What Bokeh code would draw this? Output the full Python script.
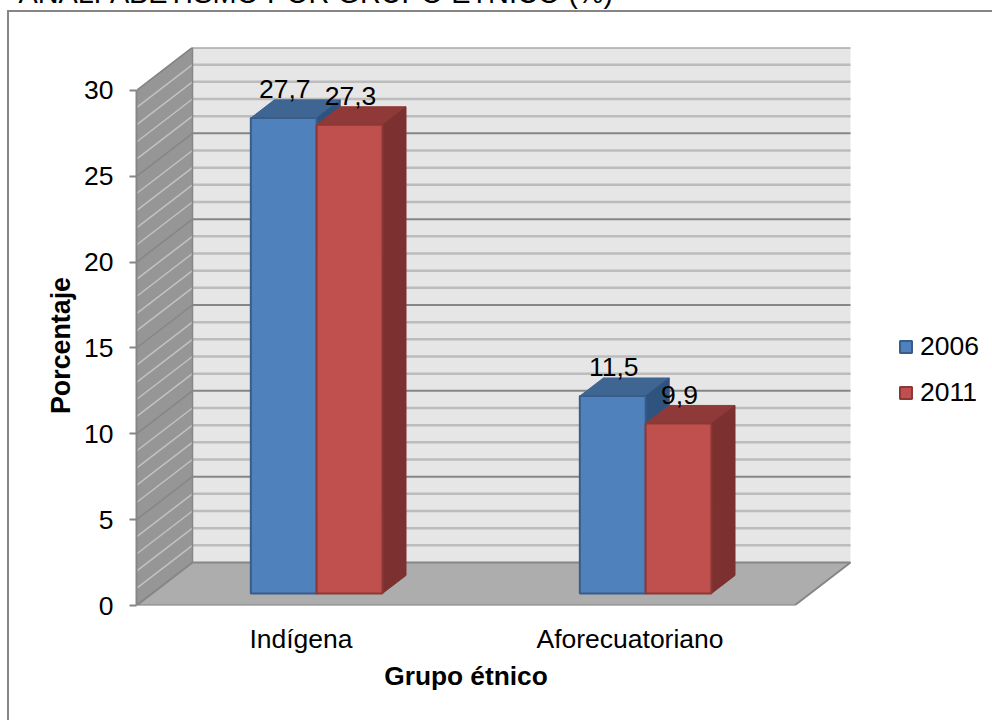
import math
from bokeh.plotting import figure
from bokeh.models import Range1d, FixedTicker, Label
from bokeh.embed import file_html
from bokeh.resources import INLINE
from bokeh.core.properties import value

title_text = "ANALFABETISMO POR GRUPO ÉTNICO (%)"
categories = ["Indígena", "Aforecuatoriano"]
series_names = ["2006", "2011"]
values_2006 = [27.7, 11.5]
values_2011 = [27.3, 9.9]
y_ticks = [0, 5, 10, 15, 20, 25, 30]
minor_levels = list(range(0, 31))
y_label = "Porcentaje"
x_label = "Grupo étnico"

FONT = "Liberation Sans"
GREY = "#868686"
W, H = 992, 720
LEFT, TOP, BOTTOM = 136, 47, 115   # room for the axes and the title
CAT_PX, UNIT_PX = 329.0, 17.167
DX, DY = 56 / CAT_PX, 43 / UNIT_PX   # depth shear of the 3D box
BW = 0.2                    # bar width in category units
D0, D1 = 0.279, 0.70        # bar depth extent inside the box
NCAT = len(categories)
Y_MAX = y_ticks[-1]


def px(x, d=0.0):
    return x + d * DX


def py(v, d=0.0):
    return v + d * DY


p = figure(width=W, height=H, output_backend="svg", toolbar_location=None,
           x_range=Range1d(0, (W - LEFT) / CAT_PX), y_range=Range1d(0, (H - BOTTOM - TOP) / UNIT_PX),
           min_border_left=LEFT, min_border_right=0, min_border_top=TOP, min_border_bottom=BOTTOM,
           background_fill_color=None, border_fill_color=None, outline_line_color=None)
p.grid.visible = False

# outer chart frame: only its left and top edge fall inside the picture
p.styles = {"background": (f"linear-gradient({GREY},{GREY}) 7px 10px / 2px 100% no-repeat,"
                           f"linear-gradient({GREY},{GREY}) 7px 10px / 100% 2px no-repeat")}

p.add_layout(Label(x=18, y=-8, x_units="canvas", y_units="canvas", text=title_text,
                   text_font=FONT, text_font_size="28.85px", text_color="#000000",
                   text_baseline="alphabetic", text_align="left"), "above")
p.add_layout(Label(x=60, y=345, x_units="canvas", y_units="canvas", text=y_label,
                   angle=math.pi / 2, text_font=FONT, text_font_size="26.8px",
                   text_font_style="bold", text_color="#000000",
                   text_baseline="middle", text_align="center"), "left")
p.add_layout(Label(x=465.5, y=675, x_units="canvas", y_units="canvas", text=x_label,
                   text_font=FONT, text_font_size="26.3px",
                   text_font_style="bold", text_color="#000000",
                   text_baseline="middle", text_align="center"), "below")

# back wall
p.patch([px(0, 1), px(NCAT, 1), px(NCAT, 1), px(0, 1)],
        [py(0, 1), py(0, 1), py(Y_MAX, 1), py(Y_MAX, 1)],
        fill_color="#e6e6e6", line_color=None)
# left wall
p.patch([px(0, 0), px(0, 1), px(0, 1), px(0, 0)],
        [py(0, 0), py(0, 1), py(Y_MAX, 1), py(Y_MAX, 0)],
        fill_color="#969696", line_color=None)
# floor
p.patch([px(0, 0), px(NCAT, 0), px(NCAT, 1), px(0, 1)],
        [py(0, 0), py(0, 0), py(0, 1), py(0, 1)],
        fill_color="#adadad", line_color=None)

# gridlines
for lv in minor_levels:
    major = lv in y_ticks
    if lv == 0:
        continue
    back = GREY if major else "#bcbcbc"
    wall = GREY if major else "#c2c2c2"
    width = 2 if lv == Y_MAX or major else 2.5
    p.line([px(0, 1), px(NCAT, 1)], [py(lv, 1), py(lv, 1)], line_color=back, line_width=width)
    p.line([px(0, 0), px(0, 1)], [py(lv, 0), py(lv, 1)], line_color=wall, line_width=1.5)

# box edges
p.line([px(0, 0), px(0, 1), px(NCAT, 1), px(NCAT, 0), px(0, 0)],
       [py(0, 0), py(0, 1), py(0, 1), py(0, 0), py(0, 0)], line_color=GREY, line_width=2)
p.line([px(0, 1), px(0, 1)], [py(0, 1), py(Y_MAX, 1)], line_color=GREY, line_width=1.5)
p.line([px(0, 0), px(0, 1)], [py(Y_MAX, 0), py(Y_MAX, 1)], line_color=GREY, line_width=1.5)

# bars
styles = [
    dict(front="#4f81bd", edge="#385d8a", top="#3f6592", side="#2f537f"),
    dict(front="#c0504d", edge="#8c3836", top="#8f3a38", side="#7c3130"),
]
all_series = [values_2006, values_2011]
for s, (vals, st) in enumerate(zip(all_series, styles)):
    lefts, rights = [], []
    for i, v in enumerate(vals):
        x0 = i + 0.5 - BW + s * BW
        x1 = x0 + BW
        lefts.append(px(x0, D0))
        rights.append(px(x1, D0))
        p.patch([px(x0, D0), px(x1, D0), px(x1, D1), px(x0, D1)],
                [py(v, D0), py(v, D0), py(v, D1), py(v, D1)],
                fill_color=st["top"], line_color=st["top"], line_width=1)
        p.patch([px(x1, D0), px(x1, D1), px(x1, D1), px(x1, D0)],
                [py(0, D0), py(0, D1), py(v, D1), py(v, D0)],
                fill_color=st["side"], line_color=st["side"], line_width=1)
    p.quad(left=lefts, right=rights, top=[py(v, D0) for v in vals],
           bottom=[py(0, D0)] * len(vals),
           fill_color=st["front"], line_color=st["edge"], line_width=2,
           legend_label=series_names[s])

# value labels
for s, vals in enumerate(all_series):
    xs = [px(i + 0.5 - BW + s * BW + BW / 2, D0) for i in range(len(vals))]
    ys = [py(v, D0) for v in vals]
    labels = [f"{v:.1f}".replace(".", ",") for v in vals]
    p.text(xs, ys, text=labels, text_font=value(FONT), text_font_size="26.5px",
           text_color="#000000", text_align="center", text_baseline="alphabetic",
           y_offset=-29, x_offset=1)

# axes
yax = p.yaxis[0]
yax.bounds = (0, Y_MAX)
yax.ticker = FixedTicker(ticks=y_ticks)
yax.minor_tick_line_color = None
yax.axis_line_color = GREY
yax.axis_line_width = 2
yax.major_tick_line_color = GREY
yax.major_tick_line_width = 2
yax.major_tick_in = 0
yax.major_tick_out = 7
yax.major_label_standoff = 16
yax.major_label_text_font = FONT
yax.major_label_text_font_size = "26.5px"
yax.major_label_text_color = "#000000"

xax = p.xaxis[0]
xax.bounds = (0, NCAT)
xax.ticker = FixedTicker(ticks=[i + 0.5 for i in range(NCAT)])
xax.major_label_overrides = {i + 0.5: c for i, c in enumerate(categories)}
xax.minor_tick_line_color = None
xax.major_tick_line_color = None
xax.major_tick_in = 0
xax.major_tick_out = 0
xax.axis_line_color = None
xax.major_label_standoff = 18
xax.major_label_text_font = FONT
xax.major_label_text_font_size = "26.5px"
xax.major_label_text_color = "#000000"

# legend
lg = p.legend[0]
lg.location = (762, 197)
lg.background_fill_color = None
lg.border_line_color = None
lg.padding = 0
lg.margin = 0
lg.spacing = 15
lg.glyph_width = 15
lg.glyph_height = 15
lg.label_standoff = 7
lg.label_text_font = FONT
lg.label_text_font_size = "26.5px"
lg.label_text_color = "#000000"
lg.label_height = 26

open("out.html", "w").write(file_html(p, INLINE))
